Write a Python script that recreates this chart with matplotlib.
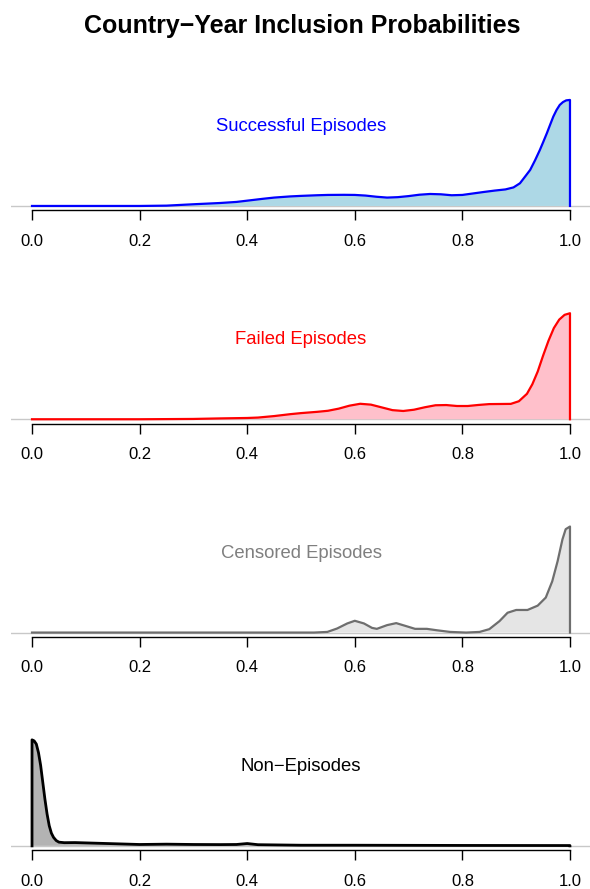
import matplotlib
matplotlib.use("Agg")
import matplotlib.pyplot as plt
import numpy as np

plt.rcParams['font.family'] = ['Liberation Sans', 'DejaVu Sans']

# relative density heights (peak = 1) read at the given inclusion probabilities
succ_x = [0.0, 0.1, 0.2, 0.25, 0.3, 0.35, 0.38, 0.4, 0.43, 0.45, 0.48, 0.5, 0.53,
          0.55, 0.58, 0.6, 0.62, 0.64, 0.66, 0.68, 0.7, 0.72, 0.74, 0.76, 0.78,
          0.8, 0.82, 0.84, 0.86, 0.88, 0.895, 0.907, 0.917, 0.926, 0.935, 0.944,
          0.95, 0.957, 0.963, 0.969, 0.975, 0.981, 0.987, 0.993, 1.0]
succ_y = [0.0, 0.0, 0.0, 0.003, 0.016, 0.028, 0.038, 0.05, 0.068, 0.079, 0.09,
          0.095, 0.101, 0.104, 0.105, 0.104, 0.098, 0.087, 0.079, 0.083, 0.093,
          0.106, 0.113, 0.11, 0.101, 0.104, 0.118, 0.132, 0.145, 0.156, 0.175,
          0.214, 0.28, 0.34, 0.43, 0.528, 0.6, 0.686, 0.765, 0.843, 0.905,
          0.953, 0.98, 0.996, 1.0]

fail_x = [0.0, 0.1, 0.2, 0.3, 0.35, 0.4, 0.42, 0.45, 0.48, 0.5, 0.53, 0.55, 0.57,
          0.59, 0.61, 0.63, 0.65, 0.67, 0.69, 0.71, 0.73, 0.75, 0.77, 0.79, 0.81,
          0.83, 0.85, 0.87, 0.89, 0.905, 0.92, 0.93, 0.94, 0.95, 0.96, 0.97,
          0.98, 0.99, 1.0]
fail_y = [0.0, 0.0, 0.0, 0.003, 0.008, 0.012, 0.016, 0.03, 0.048, 0.058, 0.07,
          0.08, 0.1, 0.128, 0.146, 0.138, 0.112, 0.086, 0.078, 0.09, 0.113,
          0.132, 0.134, 0.125, 0.125, 0.135, 0.143, 0.144, 0.145, 0.17, 0.24,
          0.33, 0.45, 0.6, 0.74, 0.86, 0.94, 0.985, 1.0]

cens_x = [0.0, 0.2, 0.4, 0.524, 0.549, 0.567, 0.586, 0.6, 0.617, 0.632, 0.641,
          0.66, 0.677, 0.694, 0.712, 0.734, 0.752, 0.777, 0.807, 0.832, 0.85,
          0.869, 0.884, 0.9, 0.921, 0.94, 0.955, 0.967, 0.977, 0.986, 0.992, 1.0]
cens_y = [0.0, 0.0, 0.0, 0.0, 0.006, 0.038, 0.086, 0.111, 0.086, 0.044, 0.035,
          0.07, 0.089, 0.063, 0.035, 0.035, 0.022, 0.006, 0.0, 0.006, 0.032,
          0.108, 0.187, 0.213, 0.213, 0.254, 0.33, 0.483, 0.673, 0.879, 0.975,
          1.0]

non_x = [0.0, 0.004, 0.008, 0.012, 0.016, 0.02, 0.024, 0.028, 0.032, 0.036, 0.04,
         0.045, 0.05, 0.06, 0.08, 0.12, 0.16, 0.2, 0.25, 0.3, 0.35, 0.38, 0.4,
         0.42, 0.5, 0.6, 0.8, 1.0]
non_y = [1.0, 0.99, 0.96, 0.88, 0.76, 0.6, 0.44, 0.3, 0.19, 0.12, 0.08, 0.05,
         0.035, 0.03, 0.031, 0.025, 0.019, 0.013, 0.016, 0.013, 0.012, 0.013,
         0.022, 0.011, 0.006, 0.006, 0.004, 0.003]

labels = ["Successful Episodes", "Failed Episodes", "Censored Episodes",
          "Non\u2212Episodes"]
line_cols = ["blue", "red", "#6e6e6e", "black"]
fill_cols = ["#ADD8E6", "#FFC0CB", "#E5E5E5", "#B3B3B3"]
text_cols = ["blue", "red", "#7f7f7f", "black"]
widths = [1.6, 1.6, 1.6, 2.0]
ticks = [0.0, 0.2, 0.4, 0.6, 0.8, 1.0]

W, H = 590, 889
fig = plt.figure(figsize=(W / 100, H / 100), dpi=100)
fig.text(302 / W, 1 - 26 / H, "Country\u2212Year Inclusion Probabilities",
         ha="center", va="center", fontsize=18, fontweight="bold")

series = [(succ_x, succ_y), (fail_x, fail_y), (cens_x, cens_y), (non_x, non_y)]
for i, (xs, ys) in enumerate(series):
    bottom_px = 210.2 + i * 213.3
    ax = fig.add_axes([10.5 / W, 1 - bottom_px / H, 581 / W, 114.5 / H])
    xs = np.asarray(xs)
    ys = np.asarray(ys)
    # close the polygon down to zero at both ends like a cut density
    px = np.concatenate(([xs[0]], xs, [xs[-1]]))
    py = np.concatenate(([0], ys, [0]))
    ax.fill(px, py, color=fill_cols[i], lw=0)
    ax.plot(px, py, color=line_cols[i], lw=widths[i], solid_joinstyle="round")
    ax.axhline(0, color="#C8C8C8", lw=1, zorder=0)
    ax.text(0.5, 0.75, labels[i], color=text_cols[i], ha="center", va="center",
            fontsize=13.3)
    ax.set_xlim(-0.04, 1.04)
    ax.set_ylim(-0.04, 1.04)
    for s in ["top", "right", "left"]:
        ax.spines[s].set_visible(False)
    ax.spines["bottom"].set_bounds(0, 1)
    ax.spines["bottom"].set_linewidth(1)
    ax.set_yticks([])
    ax.set_xticks(ticks)
    ax.set_xticklabels(["%.1f" % t for t in ticks])
    ax.tick_params(axis="x", length=7, width=1, labelsize=12, pad=10)
    ax.patch.set_visible(False)

fig.savefig("out.png", dpi=100)
